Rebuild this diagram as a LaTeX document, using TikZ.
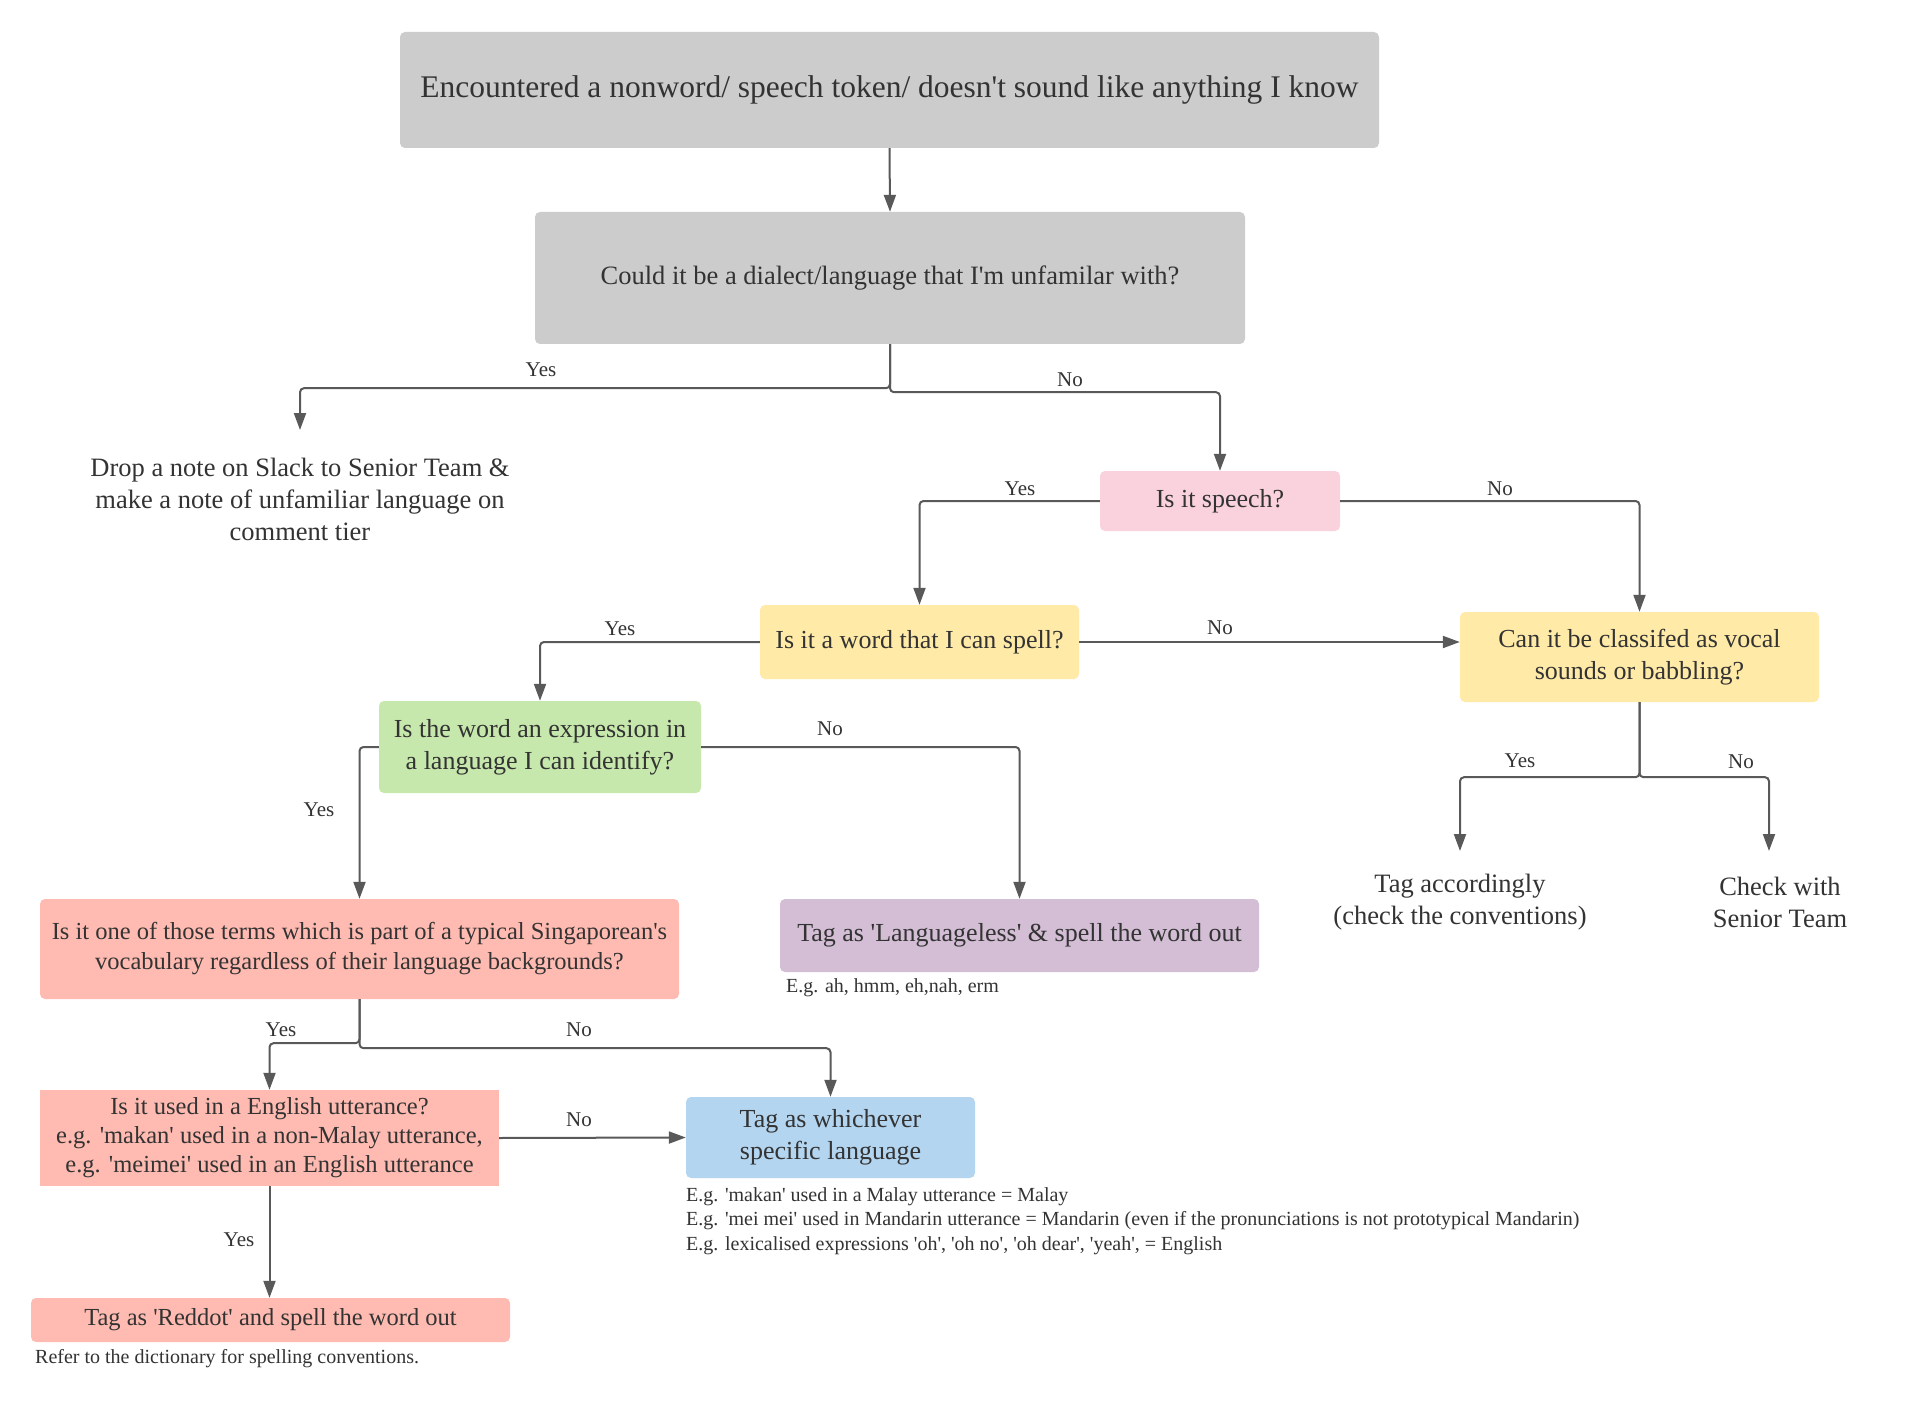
\documentclass[tikz,border=0pt]{standalone}
\usepackage{fontspec}
\setmainfont{Liberation Serif}[Ligatures=TeXOff]
\usetikzlibrary{arrows.meta}
\definecolor{ink}{HTML}{333333}
\definecolor{wire}{HTML}{595959}
\definecolor{greybox}{HTML}{CCCCCC}
\definecolor{pinkbox}{HTML}{F9D2DD}
\definecolor{yellowbox}{HTML}{FFEAA7}
\definecolor{greenbox}{HTML}{C7E8AC}
\definecolor{salmonbox}{HTML}{FFBBB1}
\definecolor{purplebox}{HTML}{D3BED5}
\definecolor{bluebox}{HTML}{B3D5F0}
\begin{document}
\begin{tikzpicture}[x=1pt,y=-1pt,
  box/.style={rectangle, rounded corners=5pt, inner sep=0pt, align=center,
    text=ink, font=\fontsize{26}{32}\selectfont},
  plain/.style={inner sep=0pt, align=center, text=ink,
    font=\fontsize{26.5}{32}\selectfont},
  note/.style={inner sep=0pt, align=left, text=ink,
    font=\fontsize{20}{24.5}\selectfont},
  lbl/.style={inner sep=0pt, text=ink, font=\fontsize{21}{25}\selectfont},
  flow/.style={draw=wire, line width=2pt, rounded corners=4pt,
    -{Triangle[length=17pt,width=12pt]}}]
\useasboundingbox (0,0) rectangle (1920,1423);
\fill[white] (0,0) rectangle (1920,1423);

% ---- boxes ----
\node[box, fill=greybox, minimum width=979pt, minimum height=116pt,
  font=\fontsize{31.5}{37}\selectfont] (start) at (889.5,90)
  {Encountered a nonword/ speech token/ doesn't sound like anything I know};
\node[box, fill=greybox, minimum width=710pt, minimum height=132pt,
  font=\fontsize{26.5}{32}\selectfont] (dialect) at (890,278)
  {Could it be a dialect/language that I'm unfamilar with?};
\node[plain] (slack) at (300,499)
  {Drop a note on Slack to Senior Team \&\\make a note of unfamiliar language on\\comment tier};
\coordinate (slacktip) at (300,430);

\node[box, fill=pinkbox, minimum width=240pt, minimum height=60pt] (speech) at (1220,501)
  {Is it speech?};
\node[box, fill=yellowbox, minimum width=319pt, minimum height=74pt] (spell) at (919.5,642)
  {Is it a word that I can spell?};
\node[box, fill=yellowbox, minimum width=359pt, minimum height=90pt] (vocal) at (1639.5,657)
  {Can it be classifed as vocal\\sounds or babbling?};
\node[box, fill=greenbox, minimum width=322pt, minimum height=92pt] (expr) at (540,747)
  {Is the word an expression in\\a language I can identify?};
\node[box, fill=salmonbox, minimum width=639pt, minimum height=100pt,
  font=\fontsize{24.5}{30}\selectfont] (sing) at (359.5,949)
  {Is it one of those terms which is part of a typical Singaporean's\\vocabulary regardless of their language backgrounds?};
\node[box, fill=purplebox, minimum width=479pt, minimum height=73pt] (langless) at (1019.5,935.5)
  {Tag as 'Languageless' \& spell the word out};
\node[note, anchor=west] (langnote) at (786,988) {E.g. ah, hmm, eh,nah, erm};

\node[plain] (accord) at (1460,902) {Tag accordingly\\(check the conventions)};
\node[plain] (senior) at (1780,902) {Check with\\Senior Team};
\coordinate (accordtip) at (1460,851);
\coordinate (seniortip) at (1769,851);

\node[rectangle, inner sep=0pt, align=center, text=ink, fill=salmonbox,
  font=\fontsize{24.5}{29}\selectfont, minimum width=459pt, minimum height=96pt]
  (english) at (269.5,1138)
  {Is it used in a English utterance?\\e.g. 'makan' used in a non-Malay utterance,\\e.g. 'meimei' used in an English utterance};
\node[box, fill=bluebox, minimum width=289pt, minimum height=81pt] (specific) at (830.5,1137.5)
  {Tag as whichever\\specific language};
\node[note, anchor=north west] (specnote) at (686,1187)
  {E.g. 'makan' used in a Malay utterance = Malay\\
   E.g. 'mei mei' used in Mandarin utterance = Mandarin (even if the pronunciations is not prototypical Mandarin)\\
   E.g. lexicalised expressions 'oh', 'oh no', 'oh dear', 'yeah', = English};
\node[box, fill=salmonbox, minimum width=479pt, minimum height=44pt,
  font=\fontsize{24.5}{29}\selectfont] (reddot) at (270.5,1320)
  {Tag as 'Reddot' and spell the word out};
\node[note, anchor=west] (refnote) at (35,1359) {Refer to the dictionary for spelling conventions.};

% ---- connectors ----
\draw[flow] (start.south) -- (dialect.north);
\draw[flow] (dialect.south) -- ++(0,44) -| (slacktip);
\draw[flow] (dialect.south) -- ++(0,48) -| (speech.north);
\draw[flow] (speech.west) -| (spell.north);
\draw[flow] (speech.east) -| (vocal.north);
\draw[flow] (spell.east) -- (spell.east -| vocal.west);
\draw[flow] (spell.west) -| (expr.north);
\draw[flow] (expr.west) -| (sing.north);
\draw[flow] (expr.east) -| (langless.north);
\draw[flow] (vocal.south) -- ++(0,75) -| (accordtip);
\draw[flow] (vocal.south) -- ++(0,75) -| (seniortip);
\draw[flow] (sing.south) -- ++(0,44) -| (english.north);
\draw[flow] (sing.south) -- ++(0,49) -| (specific.north);
\draw[flow] (english.east) -- (specific.west);
\draw[flow] (english.south) -- (english.south |- reddot.north);

% ---- branch labels ----
\node[lbl] (l1) at (541,370) {Yes};
\node[lbl] (l2) at (1070,380) {No};
\node[lbl] (l3) at (1020,489) {Yes};
\node[lbl] (l4) at (1500,489) {No};
\node[lbl] (l5) at (1220,628) {No};
\node[lbl] (l6) at (620,629) {Yes};
\node[lbl] (l7) at (319,810) {Yes};
\node[lbl] (l8) at (830,729) {No};
\node[lbl] (l9) at (1520,761) {Yes};
\node[lbl] (l10) at (1741,762) {No};
\node[lbl] (l11) at (281,1030) {Yes};
\node[lbl] (l12) at (579,1030) {No};
\node[lbl] (l13) at (579,1120) {No};
\node[lbl] (l14) at (239,1240) {Yes};
\end{tikzpicture}
\end{document}
